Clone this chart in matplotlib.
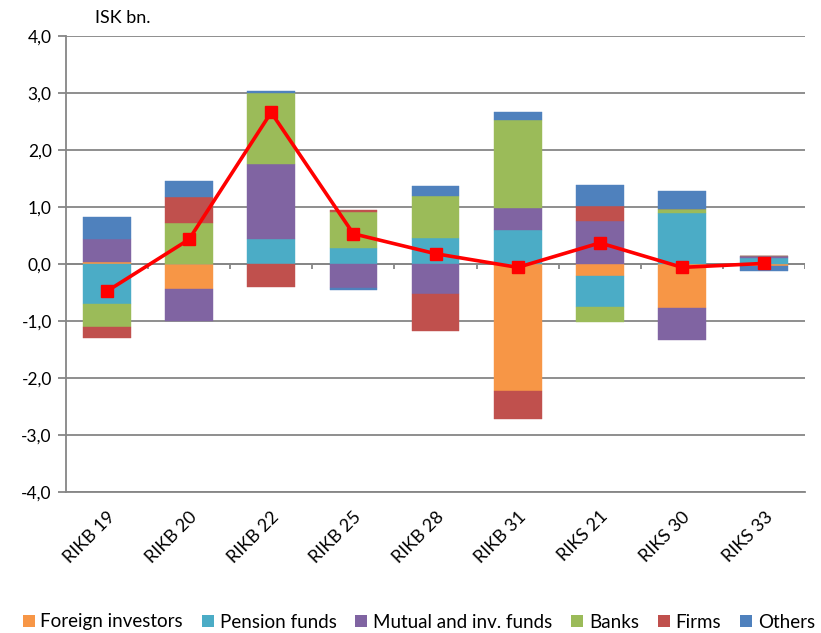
import matplotlib
matplotlib.use("Agg")
import matplotlib.pyplot as plt
import numpy as np
from matplotlib.patches import Patch

categories = ["RIKB 19", "RIKB 20", "RIKB 22", "RIKB 25", "RIKB 28", "RIKB 31", "RIKS 21", "RIKS 30", "RIKS 33"]
foreign = [0.03, -0.44, 0.00, 0.00, 0.00, -2.23, -0.22, -0.77, -0.04]
pension = [-0.71, 0.00, 0.43, 0.28, 0.46, 0.60, -0.53, 0.89, 0.11]
mutual = [0.41, -0.56, 1.32, -0.42, -0.52, 0.38, 0.75, -0.56, 0.03]
banks = [-0.39, 0.72, 1.25, 0.64, 0.74, 1.55, -0.27, 0.08, 0.00]
firms = [-0.20, 0.45, -0.40, 0.03, -0.66, -0.49, 0.27, 0.00, 0.00]
others = [0.39, 0.28, 0.04, -0.03, 0.16, 0.13, 0.36, 0.31, -0.08]
total = [-0.48, 0.43, 2.66, 0.53, 0.18, -0.06, 0.37, -0.06, 0.01]

series_names = ["Foreign investors", "Pension funds", "Mutual and inv. funds", "Banks", "Firms", "Others"]
series = [foreign, pension, mutual, banks, firms, others]
colors = ["#F79646", "#4BACC6", "#8064A2", "#9BBB59", "#C0504D", "#4F81BD"]

plt.rcParams['font.family'] = ['Lato', 'DejaVu Sans']

fig = plt.figure(figsize=(8.21, 6.33), dpi=100)
ax = fig.add_axes([0.080, 0.223, 0.901, 0.720])

x = np.arange(len(categories))
pos_bottom = np.zeros(len(categories))
neg_bottom = np.zeros(len(categories))
width = 0.58
for vals, col in zip(series, colors):
    v = np.array(vals, dtype=float)
    bottoms = np.where(v >= 0, pos_bottom, neg_bottom)
    ax.bar(x, v, width=width, bottom=bottoms, color=col, edgecolor=col, linewidth=0.3, zorder=3)
    pos_bottom += np.where(v >= 0, v, 0)
    neg_bottom += np.where(v < 0, v, 0)

ax.plot(x, total, color='#FF0000', linewidth=2.6, marker='s', markersize=8.5, zorder=5)

ax.set_xlim(-0.5, len(categories) - 0.5)
ax.set_ylim(-4, 4)
yt = np.arange(-4, 4.01, 1.0)
ax.set_yticks(yt)
ax.set_yticklabels([("%.1f" % t).replace('.', ',') for t in yt], fontsize=12.5)
ax.yaxis.grid(True, color='#868686', linewidth=1.3, zorder=0)
ax.set_axisbelow(True)
ax.tick_params(axis='y', direction='out', length=6, width=1.3, color='#868686', pad=4)

for s in ['top', 'right']:
    ax.spines[s].set_visible(False)
ax.spines['left'].set_color('#868686')
ax.spines['left'].set_linewidth(1.3)
ax.spines['bottom'].set_color('#868686')
ax.spines['bottom'].set_linewidth(1.3)

# zero axis line with category tick marks
ax.axhline(0, color='#868686', linewidth=1.3, zorder=2)
bounds = np.arange(len(categories) + 1) - 0.5
ax.vlines(bounds[1:], 0, -0.09, color='#868686', linewidth=1.3, zorder=2)

ax.set_xticks(x)
ax.set_xticklabels(categories, rotation=45, ha='right', rotation_mode='anchor', fontsize=13)
ax.tick_params(axis='x', length=0, pad=12)

fig.text(95 / 821, 1 - 18 / 633, "ISK bn.", fontsize=13, va='center', ha='left')

handles = [Patch(facecolor=c, edgecolor='none') for c in colors]
fig.legend(handles, series_names, loc='center', bbox_to_anchor=(0.51, 1 - 622 / 633), ncol=6,
           frameon=False, fontsize=13.5, handlelength=0.65, handleheight=0.65, handletextpad=0.3,
           columnspacing=1.0, borderaxespad=0)

fig.savefig("out.png", dpi=100)
